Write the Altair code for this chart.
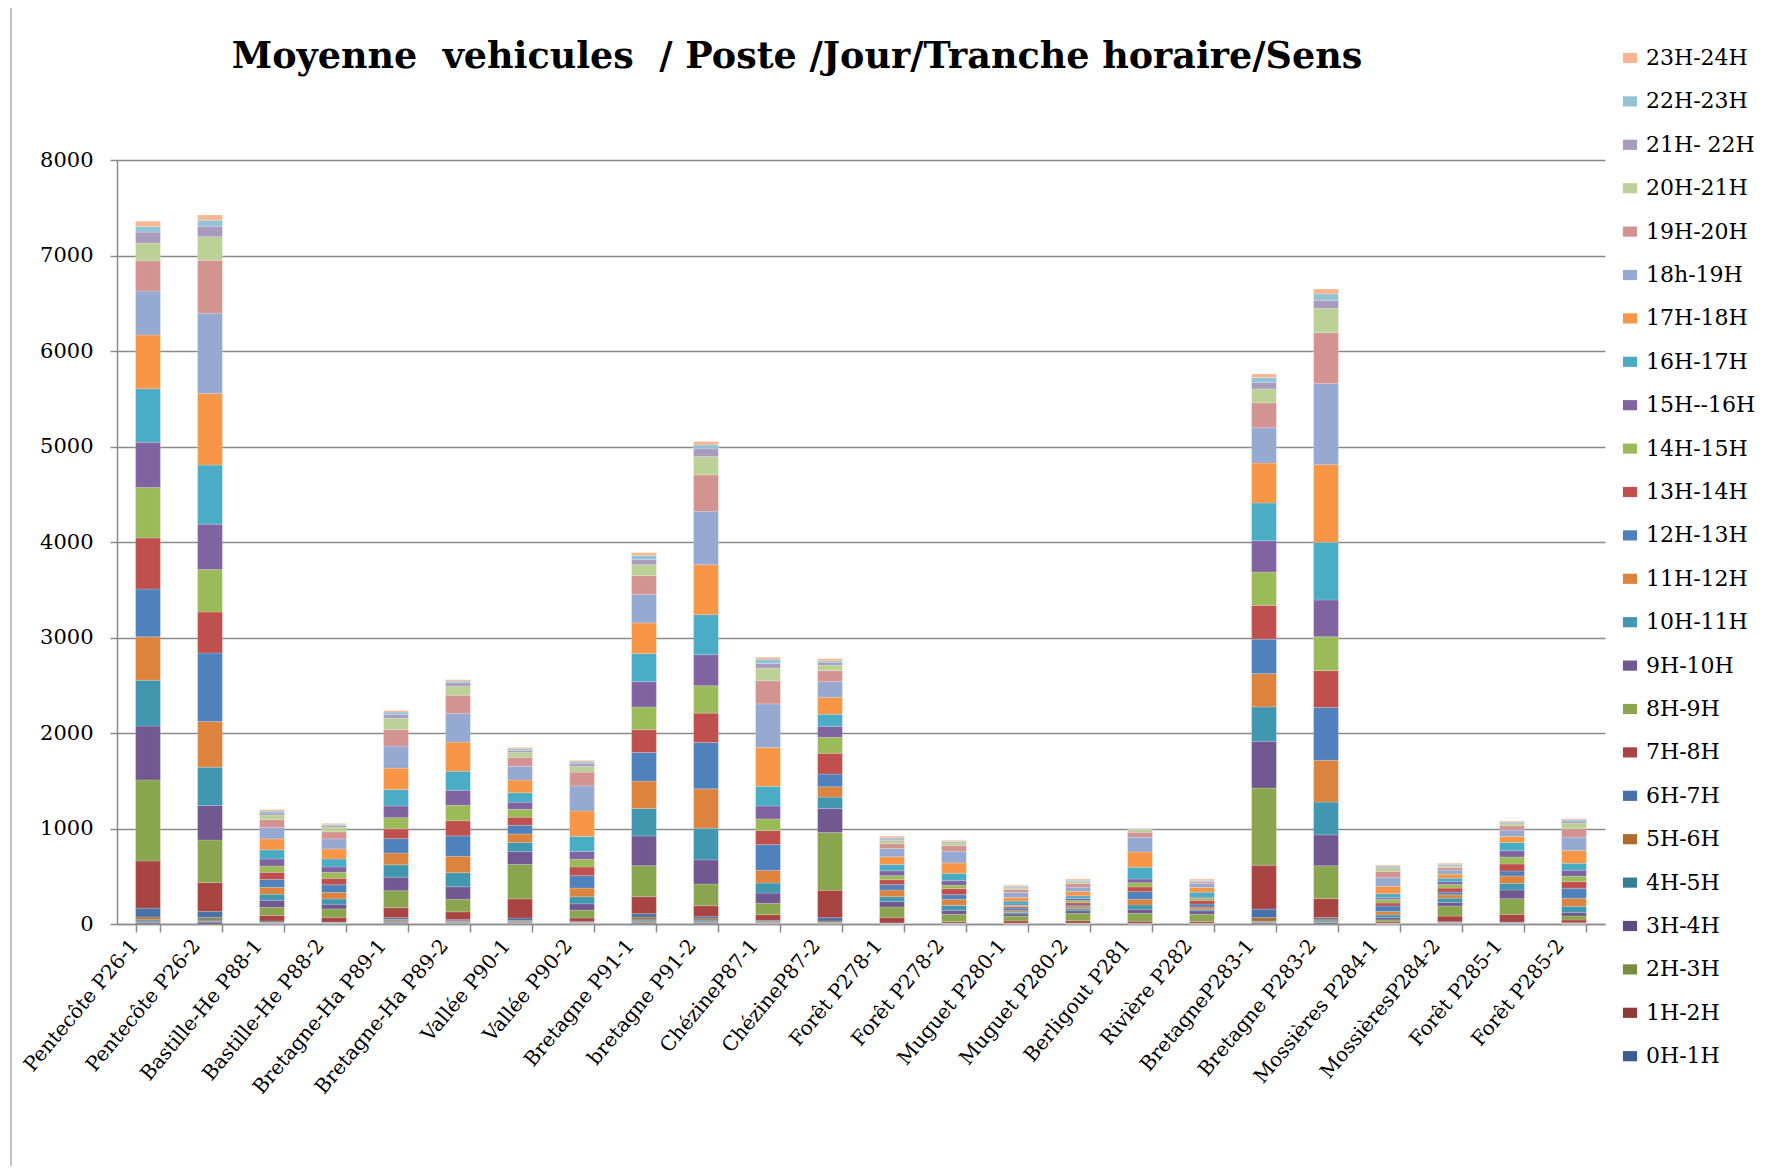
import altair as alt
import pandas as pd

stations = ["Pentecôte P26-1", "Pentecôte P26-2", "Bastille-He P88-1", "Bastille-He P88-2",
            "Bretagne-Ha P89-1", "Bretagne-Ha P89-2", "Vallée P90-1", "Vallée P90-2",
            "Bretagne P91-1", "bretagne  P91-2", "ChézineP87-1", "ChézineP87-2",
            "Forêt P278-1", "Forêt P278-2", "Muguet P280-1", "Muguet P280-2",
            "Berligout P281", "Rivière P282", "BretagneP283-1", "Bretagne P283-2",
            "Mossières P284-1", "MossièresP284-2", "Forêt P285-1", "Forêt P285-2"]

hours = ["0H-1H", "1H-2H", "2H-3H", "3H-4H", "4H-5H", "5H-6H", "6H-7H", "7H-8H",
         "8H-9H", "9H-10H", "10H-11H", "11H-12H", "12H-13H", "13H-14H", "14H-15H",
         "15H--16H", "16H-17H", "17H-18H", "18h-19H", "19H-20H", "20H-21H",
         "21H- 22H", "22H-23H", "23H-24H"]

colors = ["#3B5D8C", "#8E3A38", "#758F3E", "#5E4A7C", "#357F92", "#B26B2F",
          "#4671A9", "#A84543", "#89A54D", "#715891", "#4197AF", "#DC843E",
          "#4F81BD", "#C0504D", "#9BBB59", "#8064A2", "#4BACC6", "#F79646",
          "#95A9D1", "#D39391", "#BBD197", "#A99BBD", "#92C4D6", "#F9B690"]

y_ticks = [0, 1000, 2000, 3000, 4000, 5000, 6000, 7000, 8000]

# values per station, hour 0H-1H ... 23H-24H
p26_1 = [10, 7, 7, 10, 14, 25, 93, 493, 850, 563, 480, 455, 500, 534, 529, 475, 559, 563, 460, 316, 188, 114, 59, 54]
p26_2 = [14, 7, 7, 10, 14, 18, 60, 305, 445, 361, 400, 479, 717, 430, 445, 475, 618, 751, 840, 554, 247, 109, 64, 54]
p88_1 = [3, 2, 2, 2, 3, 4, 14, 60, 84, 74, 64, 72, 83, 74, 66, 74, 95, 115, 118, 84, 49, 20, 20, 15]
p88_2 = [3, 2, 2, 2, 3, 4, 5, 49, 88, 49, 56, 67, 81, 67, 63, 56, 84, 105, 105, 74, 49, 14, 14, 11]
p89_1 = [7, 5, 5, 7, 10, 14, 18, 105, 177, 142, 130, 123, 151, 103, 116, 123, 172, 224, 231, 172, 120, 40, 25, 15]
p89_2 = [5, 4, 4, 5, 7, 9, 12, 81, 133, 130, 147, 172, 214, 158, 161, 158, 200, 305, 300, 190, 95, 35, 18, 15]
p90_1 = [5, 4, 4, 5, 8, 12, 25, 200, 361, 133, 98, 88, 91, 84, 84, 74, 98, 133, 144, 95, 53, 18, 18, 14]
p90_2 = [3, 3, 3, 3, 4, 5, 7, 35, 81, 67, 74, 91, 130, 91, 81, 81, 158, 266, 263, 144, 60, 28, 21, 14]
p91_1 = [8, 8, 10, 10, 15, 22, 35, 178, 325, 311, 287, 287, 300, 238, 238, 266, 293, 321, 300, 196, 115, 52, 45, 28]
p91_2 = [8, 6, 6, 8, 12, 15, 22, 115, 227, 252, 332, 412, 486, 307, 287, 325, 419, 524, 559, 381, 192, 80, 42, 35]
p87_1 = [4, 3, 3, 4, 6, 8, 10, 59, 119, 108, 105, 133, 269, 147, 122, 136, 206, 405, 458, 241, 133, 49, 45, 21]
p87_2 = [3, 3, 3, 4, 6, 12, 35, 287, 605, 252, 119, 108, 133, 217, 168, 115, 126, 178, 164, 115, 59, 28, 17, 21]
p278_1 = [1, 1, 1, 1, 2, 2, 3, 59, 108, 56, 52, 70, 56, 52, 42, 52, 66, 80, 87, 49, 35, 14, 14, 17]
p278_2 = [1, 1, 1, 1, 1, 2, 3, 14, 77, 42, 52, 63, 49, 63, 35, 49, 77, 108, 119, 63, 28, 10, 7, 10]
p280_1 = [1, 1, 1, 1, 1, 1, 2, 24, 49, 24, 17, 17, 28, 14, 14, 14, 31, 38, 52, 31, 14, 10, 10, 10]
p280_2 = [1, 1, 1, 1, 2, 2, 2, 24, 77, 28, 21, 21, 17, 24, 24, 21, 28, 45, 45, 38, 21, 10, 7, 10]
p281 = [1, 1, 1, 1, 1, 1, 2, 21, 84, 42, 45, 59, 80, 49, 45, 38, 122, 160, 155, 52, 28, 4, 4, 4]
p282 = [1, 1, 1, 1, 1, 1, 2, 17, 77, 35, 17, 24, 31, 38, 24, 10, 52, 49, 42, 17, 7, 7, 7, 10]
p283_1 = [8, 6, 5, 5, 7, 36, 89, 459, 808, 490, 360, 349, 360, 354, 349, 328, 396, 417, 370, 261, 146, 68, 52, 36]
p283_2 = [10, 6, 6, 8, 10, 12, 16, 198, 344, 323, 344, 438, 552, 386, 354, 386, 604, 813, 849, 532, 255, 83, 68, 52]
p284_1 = [1, 1, 1, 1, 1, 1, 2, 14, 21, 24, 28, 35, 59, 31, 38, 17, 42, 77, 91, 66, 35, 10, 10, 10]
p284_2 = [2, 2, 2, 3, 4, 5, 6, 59, 105, 38, 45, 35, 28, 42, 38, 28, 38, 42, 42, 28, 14, 10, 10, 10]
p285_1 = [2, 2, 2, 2, 3, 4, 6, 80, 164, 91, 70, 77, 52, 73, 73, 66, 87, 63, 66, 45, 21, 10, 10, 10]
p285_2 = [1, 1, 1, 2, 2, 3, 4, 28, 42, 38, 63, 84, 105, 70, 56, 63, 73, 133, 140, 91, 56, 21, 17, 10]

series = [p26_1, p26_2, p88_1, p88_2, p89_1, p89_2, p90_1, p90_2, p91_1, p91_2,
          p87_1, p87_2, p278_1, p278_2, p280_1, p280_2, p281, p282, p283_1, p283_2,
          p284_1, p284_2, p285_1, p285_2]

rows = []
for s, vals in zip(stations, series):
    for i, (h, v) in enumerate(zip(hours, vals)):
        rows.append({"station": s, "hour": h, "idx": i, "value": v})
df = pd.DataFrame(rows)

FONT = "DejaVu Serif"

bars = alt.Chart(df).mark_bar(stroke="white", strokeWidth=0.25, strokeOpacity=0.7).encode(
    x=alt.X("station:N", sort=stations,
            scale=alt.Scale(paddingInner=0.6, paddingOuter=0.3),
            axis=alt.Axis(title=None, labelAngle=-50, labelAlign="right",
                          labelBaseline="middle", tickBand="extent", tickSize=8,
                          labelPadding=10, labelOffset=-14, labelFontSize=20,
                          labelFont=FONT, labelColor="black", domainColor="#8a8a8a",
                          tickColor="#8a8a8a", domainWidth=1.5, tickWidth=1.5,
                          labelLimit=400)),
    y=alt.Y("value:Q", stack="zero",
            scale=alt.Scale(domain=[0, 8000], nice=False),
            axis=alt.Axis(title=None, values=y_ticks, format="d", grid=True,
                          gridColor="#8a8a8a", gridWidth=1.5, tickSize=7, labelPadding=17,
                          labelFontSize=21, labelFont=FONT, labelColor="black",
                          domainColor="#8a8a8a", tickColor="#8a8a8a", domainWidth=1.5,
                          tickWidth=1.5)),
    color=alt.Color("hour:N",
                    scale=alt.Scale(domain=hours[::-1], range=colors[::-1]),
                    legend=alt.Legend(title=None, orient="none", legendX=1502, legendY=-113,
                                      labelFont=FONT, labelFontSize=22, labelColor="black",
                                      symbolType="M-1,-0.72L1,-0.72L1,0.72L-1,0.72Z",
                                      symbolSize=200, symbolStrokeWidth=0,
                                      rowPadding=21.4, labelOffset=5)),
    order=alt.Order("idx:Q", sort="ascending"),
)

frame = alt.Chart(pd.DataFrame({"a": [0]})).mark_rule(color="#9a9a9a", strokeWidth=1.2).encode(
    x=alt.value(-106), y=alt.value(-152), y2=alt.value(1006)
)

chart = alt.layer(bars, frame).properties(
    width=1488, height=764,
    title=alt.TitleParams("Moyenne\u00a0 vehicules\u00a0 / Poste /Jour/Tranche horaire/Sens",
                          font=FONT, fontSize=36.5, fontWeight="bold", color="black",
                          anchor="middle", dx=-64, offset=0, dy=68),
    autosize=alt.AutoSizeParams(type="none"),
    padding={"left": 109, "top": 152, "right": 165, "bottom": 242},
).configure_view(stroke=None)

chart.save("out.html", embed_options={"renderer": "svg", "actions": False})
